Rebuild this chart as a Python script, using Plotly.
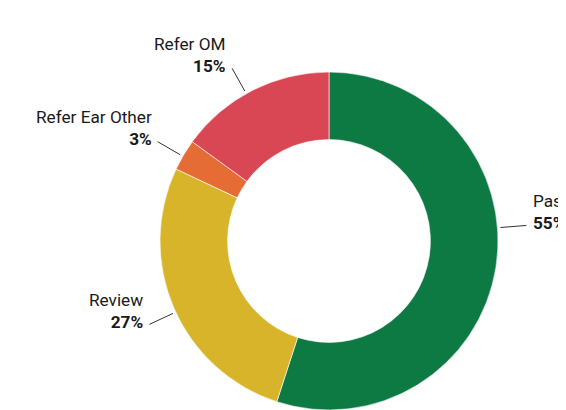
import math
import plotly.graph_objects as go

labels = ["Pass", "Review", "Refer Ear Other", "Refer OM"]
values = [55, 27, 3, 15]
colors = ["#0E7A43", "#D8B42A", "#E56D35", "#D84753"]

# label leader angle tweaks (degrees), layout only
label_angle_shift = {"Pass": -13.5, "Review": -1.5, "Refer Ear Other": -0.5, "Refer OM": -2.3}

OFF = 8  # page body margin
W, H = 566 - OFF, 410 - OFF
CX, CY, R = 329 - OFF, 241 - OFF, 169
HOLE = 0.6

fig = go.Figure(go.Pie(
    labels=labels, values=values, sort=False, direction="clockwise", rotation=0,
    hole=HOLE, marker=dict(colors=colors, line=dict(color="white", width=0.6)),
    textinfo="none", hoverinfo="label+percent", showlegend=False,
    domain=dict(x=[(CX - R) / W, (CX + R) / W], y=[1 - (CY + R) / H, 1 - (CY - R) / H]),
))

def px(x):
    return x / W

def py(y):
    return 1 - y / H

total = sum(values)
cum = 0
for lab, v in zip(labels, values):
    mid = (cum + v / 2) / total * 2 * math.pi + math.radians(label_angle_shift[lab])
    cum += v
    sx, sy = math.sin(mid), -math.cos(mid)
    x0, y0 = CX + sx * 172, CY + sy * 172
    x1, y1 = CX + sx * 198, CY + sy * 198
    fig.add_shape(type="line", xref="paper", yref="paper",
                  x0=px(x0), y0=py(y0), x1=px(x1), y1=py(y1),
                  line=dict(color="#333333", width=1))
    right = sx > 0
    tx = x1 + 5 if right else x1 - 4
    ty = y1 - 13.5
    fig.add_annotation(xref="paper", yref="paper", x=px(tx), y=py(ty),
                       text=f"{lab}<br><b>{round(v / total * 100)}%</b>",
                       showarrow=False, xanchor="left" if right else "right",
                       yanchor="middle", align="left" if right else "right",
                       font=dict(family="Roboto", size=17.2, color="#1a1a1a"))

fig.update_layout(width=W, height=H, margin=dict(l=0, r=0, t=0, b=0),
                  paper_bgcolor="white", plot_bgcolor="white")
fig.write_html("out.html")
